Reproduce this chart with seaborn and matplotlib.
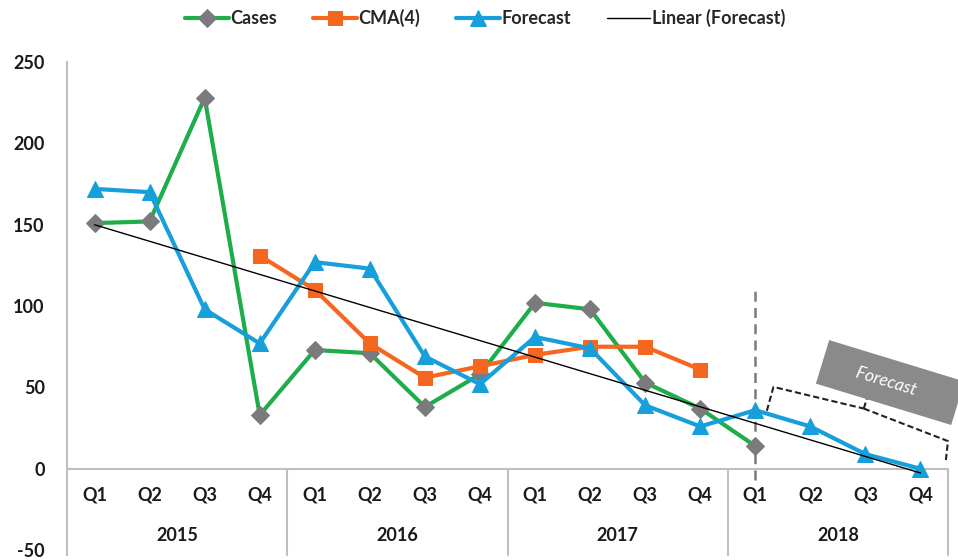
import numpy as np
import pandas as pd
import matplotlib
matplotlib.use("Agg")
import matplotlib.pyplot as plt
import seaborn as sns

quarters = ["Q1", "Q2", "Q3", "Q4"] * 4
years = ["2015", "2016", "2017", "2018"]
cases = [151, 152, 228, 33, 73, 71, 38, 58, 102, 98, 53, 37, 14, np.nan, np.nan, np.nan]
cma4 = [np.nan, np.nan, np.nan, 131, 110, 77, 56, 63, 70, 75, 75, 61, np.nan, np.nan, np.nan, np.nan]
forecast = [172, 170, 98, 77, 127, 123, 69, 52, 81, 74, 39, 26, 36, 26, 9, 0]
yticks = [-50, 0, 50, 100, 150, 200, 250]

sns.set_theme(style="white")
plt.rcParams["font.family"] = ["Lato", "DejaVu Sans"]

idx = np.arange(len(quarters))
df = pd.DataFrame({"idx": idx, "Cases": cases, "CMA(4)": cma4, "Forecast": forecast})

fig = plt.figure(figsize=(9.58, 5.6), dpi=100)
ax = fig.add_axes([67 / 958, 5 / 560, 881 / 958, 493 / 560])

green = "#1fad4b"
orange = "#f5661f"
blue = "#169fda"
grey = "#7b7b7d"
txt = "#1a1a1a"

# trend line (linear fit of forecast series)
coef = np.polyfit(idx, np.array(forecast, dtype=float), 1)
trend = np.polyval(coef, idx)

sns.lineplot(data=df, x="idx", y="Cases", ax=ax, color=green, lw=3, marker="D",
             markersize=9, markerfacecolor=grey, markeredgecolor=grey, label="Cases", zorder=3)
sns.lineplot(data=df, x="idx", y="CMA(4)", ax=ax, color=orange, lw=3, marker="s",
             markersize=10, markerfacecolor=orange, markeredgecolor=orange, label="CMA(4)", zorder=4)
sns.lineplot(data=df, x="idx", y="Forecast", ax=ax, color=blue, lw=3, marker="^",
             markersize=11, markerfacecolor=blue, markeredgecolor=blue, label="Forecast", zorder=5)
sns.lineplot(x=idx, y=trend, ax=ax, color="black", lw=1, label="Linear (Forecast)", zorder=6)

ax.set_xlim(-0.5, 15.5)
ax.set_ylim(-53, 250)
ax.set_yticks(yticks)
ax.set_yticklabels([str(v) for v in yticks], fontsize=13, fontweight="bold", color=txt)
ax.tick_params(axis="y", length=0, pad=16)
ax.set_xticks([])
ax.set_xlabel("")
ax.set_ylabel("")
for s in ["top", "right", "bottom"]:
    ax.spines[s].set_visible(False)
ax.spines["left"].set_color("#bfbfbf")
ax.spines["left"].set_linewidth(1.5)

# category axis at y=0
ax.axhline(0, color="#bfbfbf", lw=1.5, zorder=1)
for i, q in enumerate(quarters):
    ax.text(i, -16, q, ha="center", va="center", fontsize=13, fontweight="bold", color=txt)
for j, yr in enumerate(years):
    ax.text(4 * j + 1.5, -41, yr, ha="center", va="center", fontsize=13, fontweight="bold", color=txt)
for b in [3.5, 7.5, 11.5, 15.5]:
    ax.plot([b, b], [0, -53], color="#bfbfbf", lw=1.5, clip_on=False, zorder=1)

# forecast divider
ax.plot([12, 12], [-7, 110], color=grey, lw=1.8, ls=(0, (4, 2.5)), zorder=2)

# bracket
dash = (0, (3, 1.5))
ax.plot([12.21, 12.33, 13.97], [35.6, 50.3, 37.0], color="#222222", lw=1.5, ls=dash,
        zorder=7, clip_on=False)
ax.plot([13.97, 14.05], [37.0, 45.5], color="#222222", lw=1.5, ls=dash, zorder=7)
ax.plot([13.97, 15.5, 15.46], [37.0, 17.0, 5.0], color="#222222", lw=1.5,
        ls=dash, zorder=7, clip_on=False)

ax.text(14.45, 53, "     Forecast       ", rotation=-17, rotation_mode="anchor",
        ha="center", va="center", fontsize=12.5, style="italic", color="white",
        bbox=dict(boxstyle="square,pad=0.85", fc="#8a8a8a", ec="none"), zorder=8, clip_on=False)

leg = ax.legend(loc="upper center", bbox_to_anchor=(0.475, 1.14), ncol=4, frameon=False,
                prop={"weight": "bold", "size": 13}, handlelength=2.4, handletextpad=0.1,
                columnspacing=2.0)

fig.savefig("out.png", dpi=100)
